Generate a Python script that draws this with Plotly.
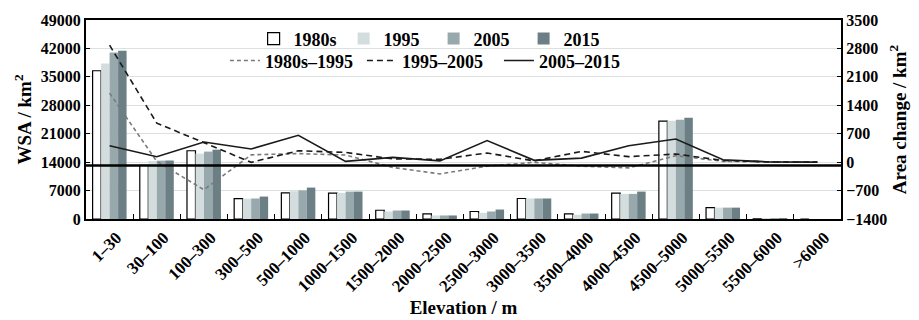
import plotly.graph_objects as go

# Elevation bands
elevation = ["1–30", "30–100", "100–300", "300–500", "500–1000", "1000–1500",
             "1500–2000", "2000–2500", "2500–3000", "3000–3500", "3500–4000",
             "4000–4500", "4500–5000", "5000–5500", "5500–6000", ">6000"]

# Water surface area (km²) per elevation band
wsa_1980s = [36500, 13200, 16800, 5000, 6450, 6350, 2150, 1270, 1850, 5050, 1270, 6350, 24100, 2800, 40, 0]
wsa_1995 = [38300, 14300, 16100, 5000, 6850, 6420, 1850, 870, 1520, 5050, 1030, 6180, 24200, 2800, 40, 0]
wsa_2005 = [41000, 14370, 16600, 5050, 7050, 6750, 2090, 870, 1850, 5050, 1350, 6180, 24450, 2800, 40, 0]
wsa_2015 = [41450, 14400, 17070, 5520, 7740, 6750, 2090, 870, 2330, 5050, 1350, 6750, 24950, 2800, 40, 0]

# Area change (km²) between periods
chg_80_95 = [1700, 20, -680, 180, 210, 175, -130, -290, -100, -5, -100, -140, 160, 20, 5, 0]
chg_95_05 = [2880, 960, 480, -5, 280, 240, 80, 70, 225, 30, 265, 135, 200, 40, 5, 0]
chg_05_15 = [405, 135, 495, 325, 660, 20, 118, 30, 530, 45, 100, 405, 570, 60, 5, 0]

left_ticks = [0, 7000, 14000, 21000, 28000, 35000, 42000, 49000]
right_ticks = [-1400, -700, 0, 700, 1400, 2100, 2800, 3500]

FONT = "Liberation Serif"
tick_font = dict(family=FONT, size=16, color="black", weight="bold")
xtick_font = dict(family=FONT, size=17, color="black", weight="bold")
title_font = dict(family=FONT, size=19, color="black", weight="bold")
legend_font = dict(family=FONT, size=18, color="black", weight="bold")

fig = go.Figure()

bar_specs = [
    ("1980s", wsa_1980s, "white", 1.2),
    ("1995", wsa_1995, "#d3dddd", 0),
    ("2005", wsa_2005, "#98a9ad", 0),
    ("2015", wsa_2015, "#6c7f85", 0),
]
for name, vals, color, lw in bar_specs:
    fig.add_trace(go.Bar(
        x=elevation, y=vals, name=name,
        marker=dict(color=color, line=dict(color="black", width=lw)),
        legend="legend",
    ))

line_specs = [
    ("1980s–1995", chg_80_95, "#7a7a7a", "4px,3px"),
    ("1995–2005", chg_95_05, "#1a1a1a", "6px,4px"),
    ("2005–2015", chg_05_15, "#1a1a1a", "solid"),
]
for name, vals, color, dash in line_specs:
    fig.add_trace(go.Scatter(
        x=elevation, y=vals, name=name, yaxis="y2", mode="lines",
        line=dict(color=color, width=1.6, dash=dash),
        legend="legend2",
    ))

# Heavy reference line across the plot just below zero change
fig.add_shape(type="line", xref="paper", x0=0, x1=1, yref="y2", y0=-80, y1=-80,
              line=dict(color="black", width=2.5), layer="above")

fig.update_layout(
    width=919, height=320,
    margin=dict(l=86, r=78, t=20, b=101),
    paper_bgcolor="white", plot_bgcolor="white",
    barmode="group", bargap=0.28, bargroupgap=0,
    font=dict(family=FONT, color="black"),
    xaxis=dict(
        type="category", tickangle=-45, tickfont=xtick_font, ticklabelshift=7,
        showline=True, linecolor="black", linewidth=2, mirror=True, automargin=False,
        ticks="inside", ticklen=5, tickwidth=1, tickcolor="black", tickson="boundaries",
        showgrid=False,
        title=dict(text="Elevation / m", font=title_font, standoff=6),
    ),
    yaxis=dict(
        range=[0, 49000], tickvals=left_ticks, ticktext=[str(v) for v in left_ticks],
        tickfont=tick_font, showline=True, linecolor="black", linewidth=2, automargin=False,
        ticks="inside", ticklen=4, tickcolor="black",
        showgrid=True, gridcolor="#d9e1e1", gridwidth=1.2, zeroline=False,
        title=dict(text="WSA / km<sup>2</sup>", font=title_font, standoff=4),
    ),
    yaxis2=dict(
        range=[-1400, 3500], tickvals=right_ticks, ticktext=[str(v).replace("-", "−") for v in right_ticks],
        overlaying="y", side="right", automargin=False,
        tickfont=tick_font, showline=True, linecolor="black", linewidth=2,
        ticks="inside", ticklen=4, tickcolor="black",
        showgrid=False, zeroline=False,
        title=dict(text="Area change / km<sup>2</sup>", font=title_font, standoff=6),
    ),
    legend=dict(
        orientation="h", x=0.222, xanchor="left", y=0.905, yanchor="middle",
        bgcolor="rgba(0,0,0,0)", font=legend_font,
        entrywidth=45, entrywidthmode="pixels", itemwidth=30, traceorder="normal",
    ),
    legend2=dict(
        orientation="h", x=0.184, xanchor="left", y=0.795, yanchor="middle",
        bgcolor="rgba(0,0,0,0)", font=legend_font,
        entrywidth=92, entrywidthmode="pixels", itemwidth=30, traceorder="normal",
    ),
)

fig.write_html("out.html")
